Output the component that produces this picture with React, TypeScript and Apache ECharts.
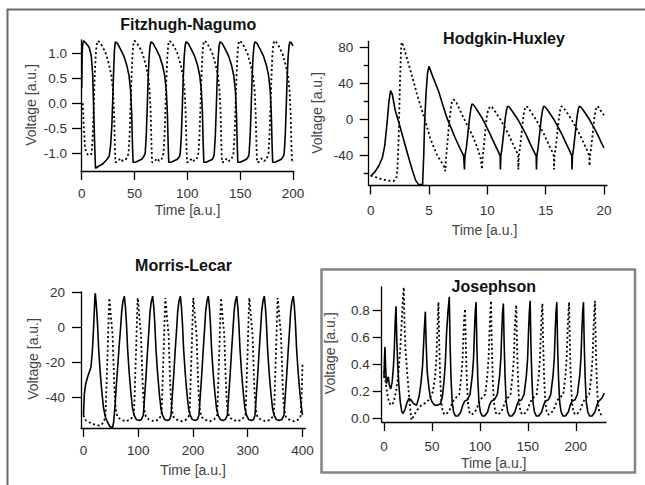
import React, { useEffect, useRef } from "react";
import * as echarts from "echarts";

// ---------- tick values ----------
const fnXTicks = [0, 50, 100, 150, 200];
const fnYTicks = [-1, -0.5, 0, 0.5, 1];
const hhXTicks = [0, 5, 10, 15, 20];
const hhYTicks = [-40, 0, 40, 80];
const hhYMinorTicks = [-60, -20, 20, 60];
const mlXTicks = [0, 100, 200, 300, 400];
const mlYTicks = [-40, -20, 0, 20];
const jjXTicks = [0, 50, 100, 150, 200];
const jjYTicks = [0, 0.2, 0.4, 0.6, 0.8];

const panelTitles = ["Fitzhugh-Nagumo", "Hodgkin-Huxley", "Morris-Lecar", "Josephson"];
const xAxisTitle = "Time [a.u.]";
const yAxisTitle = "Voltage [a.u.]";

// ---------- series values [time, voltage] ----------
const fnSolid: [number, number][] = [
  [0, 0.3], [0.4, 1.0], [1, 1.2], [1.8, 1.25], [4, 1.2], [7, 1.12], [9, 0.95], [10.3, 0.6], [11.3, -0.1], [12.2, -0.8], [13, -1.3],
  [16, -1.26], [20, -1.21], [24, -1.12], [26, -1.06], [27.3, -0.85], [28.5, -0.45], [29.4, 0.1], [30.2, 0.65], [31, 1.08], [31.8, 1.23],
  [33.8, 1.2], [36.8, 1.08], [39.8, 0.95], [42.8, 0.75], [44.8, 0.55], [46.3, 0.25], [47.3, -0.2], [48, -0.8], [48.6, -1.18], [50.8, -1.18],
  [53.8, -1.15], [56.8, -1.12], [58.8, -1.06], [60.1, -1.0], [61.1, -0.65], [62, -0.1], [62.9, 0.5], [63.8, 0.92], [64.7, 1.15], [65.6, 1.23],
  [67.6, 1.2], [70.6, 1.08], [73.6, 0.95], [76.6, 0.75], [78.6, 0.55], [80.1, 0.25], [81.1, -0.2], [81.8, -0.8], [82.4, -1.18], [84.6, -1.18],
  [87.6, -1.15], [90.6, -1.12], [92.6, -1.06], [93.3, -1.0], [94.3, -0.65], [95.2, -0.1], [96.1, 0.5], [97, 0.92], [97.9, 1.15], [98.8, 1.23],
  [100.8, 1.2], [103.8, 1.08], [106.8, 0.95], [109.8, 0.75], [111.8, 0.55], [113.3, 0.25], [114.3, -0.2], [115, -0.8], [115.6, -1.18], [117.8, -1.18],
  [120.8, -1.15], [123.8, -1.12], [125, -1.06], [125.5, -1.0], [126.5, -0.65], [127.4, -0.1], [128.3, 0.5], [129.2, 0.92], [130.1, 1.15], [131, 1.23],
  [133, 1.2], [136, 1.08], [139, 0.95], [142, 0.75], [144, 0.55], [145.5, 0.25], [146.5, -0.2], [147.2, -0.8], [147.8, -1.18], [150, -1.18],
  [153, -1.15], [156, -1.12], [158, -1.06], [158.5, -1.0], [159.5, -0.65], [160.4, -0.1], [161.3, 0.5], [162.2, 0.92], [163.1, 1.15], [164, 1.23],
  [166, 1.2], [169, 1.08], [172, 0.95], [175, 0.75], [177, 0.55], [178.5, 0.25], [179.5, -0.2], [180.2, -0.8], [180.8, -1.18], [183, -1.18],
  [186, -1.15], [189, -1.12], [191, -1.06], [191.7, -1.0], [192.7, -0.65], [193.6, -0.1], [194.5, 0.5], [195.4, 0.92], [196.3, 1.15], [197.2, 1.23],
  [198.5, 1.21], [200, 1.15],
];

const fnDotted: [number, number][] = [
  [1, 0.0], [2, -0.5], [3, -0.85], [4, -0.98], [6, -1.03], [8, -1.04], [9.4, -1.0], [10.4, -0.65], [11.3, -0.1], [12.2, 0.5], [13.2, 0.95], [14.2, 1.18], [15.1, 1.25],
  [17.1, 1.22], [20.1, 1.12], [23.1, 0.98], [26.1, 0.75], [28.1, 0.55], [29.6, 0.25], [30.6, -0.2], [31.3, -0.8], [31.9, -1.18], [34, -1.17],
  [36.5, -1.1], [38.5, -1.15], [41, -1.14], [43, -1.08], [44.3, -1.0], [45.3, -0.65], [46.2, -0.1], [47.1, 0.5], [48, 0.95], [48.9, 1.18], [49.8, 1.25],
  [51.8, 1.22], [54.8, 1.12], [57.8, 0.98], [60.8, 0.75], [62.8, 0.55], [64.3, 0.25], [65.3, -0.2], [66, -0.8], [66.6, -1.18], [68.7, -1.17],
  [71.2, -1.1], [73.2, -1.15], [75.5, -1.13], [76.5, -1.06], [77.4, -1.0], [78.4, -0.65], [79.3, -0.1], [80.2, 0.5], [81.1, 0.95], [82, 1.18], [82.9, 1.25],
  [84.9, 1.22], [87.9, 1.12], [90.9, 0.98], [93.9, 0.75], [95.9, 0.55], [97.4, 0.25], [98.4, -0.2], [99.1, -0.8], [99.7, -1.18], [101.8, -1.17],
  [104.3, -1.1], [106.3, -1.15], [108.6, -1.13], [109.6, -1.06], [110.5, -1.0], [111.5, -0.65], [112.4, -0.1], [113.3, 0.5], [114.2, 0.95], [115.1, 1.18], [116, 1.25],
  [118, 1.22], [121, 1.12], [124, 0.98], [127, 0.75], [129, 0.55], [130.5, 0.25], [131.5, -0.2], [132.2, -0.8], [132.8, -1.18], [134.9, -1.17],
  [137.4, -1.1], [139.4, -1.15], [141.7, -1.13], [142.7, -1.06], [143.7, -1.0], [144.7, -0.65], [145.6, -0.1], [146.5, 0.5], [147.4, 0.95], [148.3, 1.18], [149.2, 1.25],
  [151.2, 1.22], [154.2, 1.12], [157.2, 0.98], [160.2, 0.75], [162.2, 0.55], [163.7, 0.25], [164.7, -0.2], [165.4, -0.8], [166, -1.18], [168.1, -1.17],
  [170.6, -1.1], [172.6, -1.15], [174.9, -1.13], [175.9, -1.06], [176.8, -1.0], [177.8, -0.65], [178.7, -0.1], [179.6, 0.5], [180.5, 0.95], [181.4, 1.18], [182.3, 1.25],
  [184.3, 1.22], [187.3, 1.12], [190.3, 0.98], [193.3, 0.75], [195.3, 0.55], [196.8, 0.25], [197.8, -0.2], [198.5, -0.8], [199.1, -1.18], [200, -1.16],
];

const hhSolid: [number, number][] = [
  [0, -63.5], [0.35, -59], [0.7, -52], [1.0, -43], [1.2, -30], [1.4, -5], [1.55, 18], [1.7, 32], [1.85, 28], [2.1, 10], [2.4, -3], [2.7, -17],
  [3.0, -31], [3.3, -45], [3.6, -58], [3.85, -68], [4.1, -73], [4.45, -73], [4.55, -40], [4.62, -5], [4.75, 30], [4.88, 52], [5.0, 59],
  [5.4, 45], [5.83, 31], [6.2, 15], [6.54, 1.5], [6.9, -10], [7.25, -21], [7.6, -31], [7.97, -41], [8.04, -56], [8.08, -41], [8.2, -32],
  [8.36, -13], [8.48, 1.5], [8.58, 11], [8.68, 17],
  [8.83, 16], [9.13, 10], [9.54, 1.5], [9.88, -7], [10.25, -17], [10.6, -27], [10.97, -37], [11.1, -41], [11.12, -56], [11.16, -41], [11.26, -32],
  [11.42, -13], [11.54, 1.5], [11.64, 10], [11.74, 14.5],
  [11.89, 13.5], [12.19, 8], [12.6, 0], [12.94, -8], [13.31, -17], [13.66, -27], [14.03, -37], [14.19, -41], [14.21, -56], [14.25, -41], [14.35, -32],
  [14.51, -13], [14.63, 1.5], [14.73, 10], [14.83, 14.5],
  [14.98, 13.5], [15.28, 8], [15.69, 0], [16.03, -8], [16.4, -17], [16.75, -27], [17.12, -37], [17.24, -41], [17.26, -56], [17.3, -41], [17.4, -32],
  [17.56, -13], [17.68, 1.5], [17.78, 10], [17.88, 14.5],
  [18.03, 13.5], [18.33, 8], [18.74, 0], [19.08, -8], [19.45, -17], [19.8, -27], [20, -32],
];

const hhDotted: [number, number][] = [
  [0, -63], [0.5, -65], [0.97, -67], [1.5, -68.5], [1.97, -69], [2.2, -66], [2.3, -55], [2.4, -21], [2.47, 20], [2.54, 53], [2.6, 78], [2.66, 86],
  [2.8, 82], [3.11, 68], [3.4, 55], [3.68, 42], [3.95, 29], [4.25, 16], [4.68, -2], [5.1, -21], [5.4, -31], [5.68, -39.5], [5.97, -46], [6.26, -52],
  [6.4, -58], [6.45, -45], [6.54, -32], [6.74, -2], [6.87, 12], [6.97, 20], [7.1, 22], [7.3, 20], [7.55, 13], [7.83, 5], [8.25, -6], [8.68, -17],
  [9.0, -27], [9.26, -36], [9.45, -45], [9.54, -56], [9.58, -45], [9.69, -32], [9.85, -10], [9.97, 5], [10.1, 11], [10.25, 14.5],
  [10.4, 13.5], [10.7, 8], [11.1, 0], [11.45, -8], [11.82, -17], [12.17, -27], [12.54, -37], [12.64, -41], [12.66, -56], [12.7, -41], [12.8, -32],
  [12.96, -13], [13.08, 1.5], [13.18, 10], [13.3, 14.5],
  [13.45, 13.5], [13.75, 8], [14.15, 0], [14.5, -8], [14.87, -17], [15.22, -27], [15.59, -37], [15.7, -41], [15.72, -56], [15.76, -41], [15.86, -32],
  [16.02, -13], [16.14, 1.5], [16.24, 10], [16.35, 14.5],
  [16.5, 13.5], [16.8, 8], [17.2, 0], [17.55, -8], [17.92, -17], [18.27, -27], [18.6, -36], [18.74, -41], [18.76, -52], [18.8, -41], [18.9, -32],
  [19.06, -13], [19.18, 1.5], [19.28, 10], [19.4, 14.5], [19.55, 13], [19.8, 8], [20, 4.5],
];

const mlSolid: [number, number][] = [
  [0, -50], [1.5, -38], [4, -32], [7.6, -28], [13.6, -22.6], [16, -14], [17.8, -3.6], [19.5, 8], [20.9, 18.3], [21.6, 19.7],
  [23.6, 12], [25.6, 2], [27.6, -12], [30.6, -26], [33.6, -37], [36.6, -46], [40, -51], [44, -54], [48, -56.5], [53, -57],
  [55, -54], [57.5, -45], [59.5, -35], [62.5, -22], [65.2, -10], [67.5, -1], [69.7, 9], [72, 15], [74.5, 18],
  [76.5, 12], [78.5, 2], [80.5, -12], [83.5, -26], [86.5, -37], [89.5, -46], [92.5, -50], [96.5, -52.5], [101.5, -53], [105.5, -52.5],
  [109.3, -50], [111, -42], [114.3, -27], [117, -13], [119.3, -2], [121.5, 9], [123.8, 15], [126.3, 18],
  [128.3, 12], [130.3, 2], [132.3, -12], [135.3, -26], [138.3, -37], [141.3, -46], [144.3, -50], [148.3, -52.5], [153.3, -53], [157.3, -52.5],
  [159.8, -50], [161.5, -42], [164.8, -27], [167.5, -13], [169.8, -2], [172, 9], [174.3, 15], [176.8, 18],
  [178.8, 12], [180.8, 2], [182.8, -12], [185.8, -26], [188.8, -37], [191.8, -46], [194.8, -50], [198.8, -52.5], [203.8, -53], [207.8, -52.5],
  [210.9, -50], [212.6, -42], [215.9, -27], [218.6, -13], [220.9, -2], [223.1, 9], [225.4, 15], [227.9, 18],
  [229.9, 12], [231.9, 2], [233.9, -12], [236.9, -26], [239.9, -37], [242.9, -46], [245.9, -50], [249.9, -52.5], [254.9, -53], [258.9, -52.5],
  [262.8, -50], [264.5, -42], [267.8, -27], [270.5, -13], [272.8, -2], [275, 9], [277.3, 15], [279.8, 18],
  [281.8, 12], [283.8, 2], [285.8, -12], [288.8, -26], [291.8, -37], [294.8, -46], [297.8, -50], [301.8, -52.5], [306.8, -53], [310.8, -52.5],
  [313.2, -50], [314.9, -42], [318.2, -27], [320.9, -13], [323.2, -2], [325.4, 9], [327.7, 15], [330.2, 18],
  [332.2, 12], [334.2, 2], [336.2, -12], [339.2, -26], [342.2, -37], [345.2, -46], [348.2, -50], [352.2, -52.5], [357.2, -53], [362.2, -52.5],
  [366.2, -50], [367.9, -42], [371.2, -27], [373.9, -13], [376.2, -2], [378.4, 9], [380.7, 15], [383.2, 18],
  [385.2, 12], [387.2, 2], [389.2, -12], [392.2, -26], [395.2, -37], [398.2, -46], [400, -50],
];

const mlDotted: [number, number][] = [
  [0, -50], [2, -52], [4.6, -53], [10, -54], [16.8, -55], [23, -55.5], [29, -56], [34, -55], [38, -53], [40, -50], [41, -42], [42.6, -27],
  [44.1, -13], [45.6, 3], [46.6, 13], [47.1, 17],
  [48.1, 14], [50.1, 6], [53.1, -4], [54.6, -18], [56.1, -32], [57.6, -41], [59.1, -47], [62.1, -51], [68.1, -52.5], [77.1, -53.5], [85.1, -52.5],
  [89.7, -51], [92, -50], [93, -42], [94.5, -27], [96, -13], [97.5, 3], [98.5, 13], [99, 17],
  [100, 14], [102, 6], [105, -4], [106.5, -18], [108, -32], [109.5, -41], [111, -47], [114, -51], [120, -52.5], [129, -53.5], [137, -52.5],
  [140, -51], [142.4, -50], [143.4, -42], [144.9, -27], [146.4, -13], [147.9, 3], [148.9, 13], [149.4, 17],
  [150.4, 14], [152.4, 6], [155.4, -4], [156.9, -18], [158.4, -32], [159.9, -41], [161.4, -47], [164.4, -51], [170.4, -52.5], [179.4, -53.5], [187.4, -52.5],
  [191, -51], [193.5, -50], [194.5, -42], [196, -27], [197.5, -13], [199, 3], [200, 13], [200.5, 17],
  [201.5, 14], [203.5, 6], [206.5, -4], [208, -18], [209.5, -32], [211, -41], [212.5, -47], [215.5, -51], [221.5, -52.5], [230.5, -53.5], [238.5, -52.5],
  [241.5, -51], [244.1, -50], [245.1, -42], [246.6, -27], [248.1, -13], [249.6, 3], [250.6, 13], [251.1, 17],
  [252.1, 14], [254.1, 6], [257.1, -4], [258.6, -18], [260.1, -32], [261.6, -41], [263.1, -47], [266.1, -51], [272.1, -52.5], [281.1, -53.5], [289.1, -52.5],
  [293, -51], [295.8, -50], [296.8, -42], [298.3, -27], [299.8, -13], [301.3, 3], [302.3, 13], [302.8, 17],
  [303.8, 14], [305.8, 6], [308.8, -4], [310.3, -18], [311.8, -32], [313.3, -41], [314.8, -47], [317.8, -51], [323.8, -52.5], [332.8, -53.5], [340.8, -52.5],
  [345, -51], [347.7, -50], [348.7, -42], [350.2, -27], [351.7, -13], [353.2, 3], [354.2, 13], [354.7, 17],
  [355.7, 14], [357.7, 6], [360.7, -4], [362.2, -18], [363.7, -32], [365.2, -41], [366.7, -47], [369.7, -51], [375.7, -52.5], [384.7, -53.5], [392, -52.5],
  [396, -51], [397, -50], [398, -42], [399.5, -27], [400, -21],
];

const jjSolid: [number, number][] = [
  [0, 0.3], [0.5, 0.45], [1, 0.53], [1.6, 0.4], [2.5, 0.26], [3.5, 0.28], [4.5, 0.31], [5.5, 0.25], [7, 0.22], [8.5, 0.27], [9.8, 0.38],
  [10.8, 0.52], [11.6, 0.7], [12.5, 0.83], [13.3, 0.6], [14.3, 0.4], [15.5, 0.25], [17, 0.12], [18.6, 0.05], [20, 0.04], [22, 0.07],
  [24, 0.12], [26, 0.15], [28, 0.14], [31, 0.11], [34, 0.1], [35.2, 0.13], [36.7, 0.17], [38.5, 0.26], [40.2, 0.39], [41.9, 0.64], [43.1, 0.79],
  [44, 0.55], [45, 0.35], [47, 0.22], [48.5, 0.15], [50.5, 0.12], [53, 0.1], [55.7, 0.1], [59, 0.11], [61, 0.17], [62.5, 0.27], [64, 0.42],
  [65.3, 0.64], [66.8, 0.8], [68.1, 0.9],
  [68.9, 0.55], [69.9, 0.3], [71.1, 0.12], [72.6, 0.05], [74.6, 0.02], [77.1, 0.02], [80.1, 0.05], [82.1, 0.1], [84.1, 0.13], [87.1, 0.14],
  [89.7, 0.18], [92.1, 0.32], [93.4, 0.45], [94.2, 0.62], [95.1, 0.78], [96, 0.86],
  [96.8, 0.55], [97.8, 0.3], [99, 0.12], [100.5, 0.05], [102.5, 0.02], [105, 0.02], [108, 0.05], [110, 0.1], [112, 0.13], [115, 0.14],
  [118.2, 0.18], [120.6, 0.32], [121.9, 0.45], [122.7, 0.62], [123.6, 0.78], [124.5, 0.85],
  [125.3, 0.55], [126.3, 0.3], [127.5, 0.12], [129, 0.05], [131, 0.02], [133.5, 0.02], [136.5, 0.05], [138.5, 0.1], [140.5, 0.13], [143.5, 0.14],
  [146.1, 0.18], [148.5, 0.32], [149.8, 0.45], [150.6, 0.62], [151.5, 0.78], [152.4, 0.87],
  [153.2, 0.55], [154.2, 0.3], [155.4, 0.12], [156.9, 0.05], [158.9, 0.02], [161.4, 0.02], [164.4, 0.05], [166.4, 0.1], [168.4, 0.13], [171.4, 0.14],
  [173.9, 0.18], [176.3, 0.32], [177.6, 0.45], [178.4, 0.62], [179.3, 0.78], [180.2, 0.86],
  [181, 0.55], [182, 0.3], [183.2, 0.12], [184.7, 0.05], [186.7, 0.02], [189.2, 0.02], [192.2, 0.05], [194.2, 0.1], [196.2, 0.13], [199.2, 0.14],
  [201.7, 0.18], [204.1, 0.32], [205.4, 0.45], [206.2, 0.62], [207.1, 0.78], [208, 0.86],
  [208.8, 0.55], [209.8, 0.3], [211, 0.12], [212.5, 0.05], [214.5, 0.02], [217, 0.02], [220, 0.05], [222, 0.1], [224, 0.13], [227, 0.15], [229.8, 0.19],
];

const jjDotted: [number, number][] = [
  [0, 0.35], [1.5, 0.28], [3, 0.2], [5, 0.13], [7, 0.1], [9, 0.11], [11, 0.15], [13, 0.22], [15, 0.33], [17, 0.52], [18.5, 0.72], [19.6, 0.88], [20.6, 0.97],
  [21.4, 0.7], [22.5, 0.5], [24.3, 0.33], [26, 0.18], [27.5, 0.06], [28.8, -0.01], [31, 0.02], [34, 0.06], [39, 0.1], [44, 0.12], [48, 0.15],
  [51, 0.2], [53.4, 0.32], [54.7, 0.45], [55.5, 0.62], [56.2, 0.76], [56.8, 0.86],
  [57.6, 0.55], [58.6, 0.3], [59.8, 0.12], [61.3, 0.05], [63.3, 0.03], [65.8, 0.04], [68.8, 0.07], [70.8, 0.11], [72.8, 0.14], [78.5, 0.18],
  [80.7, 0.32], [82, 0.45], [82.8, 0.62], [83.6, 0.74], [84.5, 0.81],
  [85.3, 0.55], [86.3, 0.3], [87.5, 0.12], [89, 0.05], [91, 0.03], [93.5, 0.04], [96.5, 0.07], [98.5, 0.11], [100.5, 0.14], [105.6, 0.18],
  [107.8, 0.32], [109.1, 0.45], [109.9, 0.62], [110.7, 0.76], [111.6, 0.87],
  [112.4, 0.55], [113.4, 0.3], [114.6, 0.12], [116.1, 0.05], [118.1, 0.03], [120.6, 0.04], [123.6, 0.07], [125.6, 0.11], [127.6, 0.14], [131.9, 0.18],
  [134.1, 0.32], [135.4, 0.45], [136.2, 0.62], [137, 0.76], [137.9, 0.84],
  [138.7, 0.55], [139.7, 0.3], [140.9, 0.12], [142.4, 0.05], [144.4, 0.03], [146.9, 0.04], [149.9, 0.07], [151.9, 0.11], [153.9, 0.14], [159.2, 0.18],
  [161.4, 0.32], [162.7, 0.45], [163.5, 0.62], [164.3, 0.76], [165.2, 0.85],
  [166, 0.55], [167, 0.3], [168.2, 0.12], [169.7, 0.05], [171.7, 0.03], [174.2, 0.04], [177.2, 0.07], [179.2, 0.11], [181.2, 0.14], [187, 0.18],
  [189.2, 0.32], [190.5, 0.45], [191.3, 0.62], [192.1, 0.76], [193, 0.86],
  [193.8, 0.55], [194.8, 0.3], [196, 0.12], [197.5, 0.05], [199.5, 0.03], [202, 0.04], [205, 0.07], [207, 0.11], [209, 0.14], [214, 0.18],
  [216.2, 0.32], [217.5, 0.45], [218.3, 0.62], [219.1, 0.76], [220, 0.87],
  [220.8, 0.55], [221.8, 0.3], [223, 0.12], [224.5, 0.05], [226.5, 0.03], [229, 0.03],
];

// ---------- layout / style ----------
const FONT = "'Liberation Sans', Arial, Helvetica, sans-serif";
const LABEL_COLOR = "#333";
const NAME_COLOR = "#444";
const DOT_DASH = [2, 2.6];

type Panel = {
  grid: { left: number; top: number; width: number; height: number };
  xRange: [number, number];
  yRange: [number, number];
  xTicks: number[];
  yTicks: number[];
  xMargin: number;
  yMargin: number;
  yFmt: (v: number) => string;
  title: [number, number];
  xName: [number, number];
  yName: [number, number];
};

const panels: Panel[] = [
  {
    grid: { left: 81, top: 40, width: 213, height: 131 },
    xRange: [-0.7, 201], yRange: [-1.354, 1.266], xTicks: fnXTicks, yTicks: fnYTicks,
    xMargin: 15.6, yMargin: 14, yFmt: (v) => v.toFixed(1),
    title: [188.3, 24], xName: [187.5, 210], yName: [31, 105],
  },
  {
    grid: { left: 368.7, top: 41.3, width: 238.3, height: 144.2 },
    xRange: [-0.17, 20.26], yRange: [-74, 87], xTicks: hhXTicks, yTicks: hhYTicks,
    xMargin: 18, yMargin: 15.4, yFmt: (v) => String(v),
    title: [504, 38.5], xName: [484.5, 230], yName: [316.7, 113],
  },
  {
    grid: { left: 81, top: 291.8, width: 224.5, height: 136.2 },
    xRange: [-4.6, 405.5], yRange: [-57.3, 20.5], xTicks: mlXTicks, yTicks: mlYTicks,
    xMargin: 15.8, yMargin: 16, yFmt: (v) => String(v),
    title: [183.5, 265.2], xName: [193, 469.7], yName: [32.7, 359],
  },
  {
    grid: { left: 381.7, top: 287, width: 224.3, height: 135 },
    xRange: [-2.4, 231.5], yRange: [-0.024, 0.972], xTicks: jjXTicks, yTicks: jjYTicks,
    xMargin: 17.7, yMargin: 12, yFmt: (v) => v.toFixed(1),
    title: [493.8, 286.8], xName: [493.7, 463.3], yName: [330.3, 353.3],
  },
];

const seriesData: [number, number][][][] = [
  [fnSolid, fnDotted],
  [hhSolid, hhDotted],
  [mlSolid, mlDotted],
  [jjSolid, jjDotted],
];

function axisLineStyle() {
  return { color: "#000", width: 1.3 };
}

function buildOption() {
  const grid = panels.map((p) => ({ ...p.grid, containLabel: false, outerBoundsMode: "none" }));
  const xAxis = panels.map((p, i) => ({
    type: "value",
    gridIndex: i,
    position: "bottom",
    min: p.xRange[0],
    max: p.xRange[1],
    axisLine: { show: true, onZero: false, lineStyle: axisLineStyle() },
    axisTick: { show: true, inside: false, length: 9, customValues: p.xTicks, lineStyle: axisLineStyle() },
    axisLabel: {
      show: true, customValues: p.xTicks, margin: p.xMargin, color: LABEL_COLOR,
      fontSize: 13.5, fontFamily: FONT, formatter: (v: number) => String(v),
    },
    splitLine: { show: false },
  }));
  const yAxis: any[] = panels.map((p, i) => ({
    type: "value",
    gridIndex: i,
    position: "left",
    min: p.yRange[0],
    max: p.yRange[1],
    axisLine: { show: true, onZero: false, lineStyle: axisLineStyle() },
    axisTick: { show: true, inside: false, length: 9, customValues: p.yTicks, lineStyle: axisLineStyle() },
    axisLabel: {
      show: true, customValues: p.yTicks, margin: p.yMargin, color: LABEL_COLOR,
      fontSize: 13.5, fontFamily: FONT, formatter: p.yFmt,
    },
    splitLine: { show: false },
  }));
  // minor ticks of the Hodgkin-Huxley voltage axis
  yAxis.push({
    type: "value",
    gridIndex: 1,
    position: "left",
    min: panels[1].yRange[0],
    max: panels[1].yRange[1],
    axisLine: { show: false, onZero: false },
    axisTick: { show: true, inside: false, length: 5, customValues: hhYMinorTicks, lineStyle: axisLineStyle() },
    axisLabel: { show: false },
    splitLine: { show: false },
  });

  const series: any[] = [];
  seriesData.forEach((pair, i) => {
    series.push({
      type: "line", xAxisIndex: i, yAxisIndex: i, data: pair[0],
      showSymbol: false, symbol: "none", silent: true, z: 3,
      lineStyle: { color: "#000", width: 1.6 },
    });
    series.push({
      type: "line", xAxisIndex: i, yAxisIndex: i, data: pair[1],
      showSymbol: false, symbol: "none", silent: true, z: 2,
      lineStyle: { color: "#000", width: 1.8, type: DOT_DASH },
    });
  });

  const graphic: any[] = [
    {
      type: "polyline", silent: true,
      shape: { points: [[7.5, 485], [7.5, 9.5], [645, 9.5]] },
      style: { stroke: "#6a6a6a", lineWidth: 2, fill: null },
    },
    {
      type: "rect", silent: true,
      shape: { x: 321.5, y: 269.5, width: 313.5, height: 203 },
      style: { stroke: "#858585", lineWidth: 2.5, fill: null },
    },
  ];
  panels.forEach((p, i) => {
    graphic.push({
      type: "text", silent: true, x: p.title[0], y: p.title[1],
      style: {
        text: panelTitles[i], fill: "#111", fontSize: 16, fontWeight: "bold", fontFamily: FONT,
        align: "center", verticalAlign: "middle",
      },
    });
    graphic.push({
      type: "text", silent: true, x: p.xName[0], y: p.xName[1],
      style: {
        text: xAxisTitle, fill: NAME_COLOR, fontSize: 14, fontFamily: FONT,
        align: "center", verticalAlign: "middle",
      },
    });
    graphic.push({
      type: "text", silent: true, x: p.yName[0], y: p.yName[1], rotation: Math.PI / 2,
      style: {
        text: yAxisTitle, fill: NAME_COLOR, fontSize: 14, fontFamily: FONT,
        align: "center", verticalAlign: "middle",
      },
    });
  });

  return {
    animation: false,
    backgroundColor: "#fff",
    grid,
    xAxis,
    yAxis,
    series,
    graphic,
  };
}

export default function App() {
  const ref = useRef<HTMLDivElement>(null);
  useEffect(() => {
    if (!ref.current) return;
    const chart = echarts.init(ref.current, undefined, { renderer: "svg" });
    chart.setOption(buildOption() as any);
    return () => chart.dispose();
  }, []);
  return (
    <div
      ref={ref}
      style={{ position: "fixed", left: 0, top: 0, width: 645, height: 485, background: "#fff" }}
    />
  );
}
